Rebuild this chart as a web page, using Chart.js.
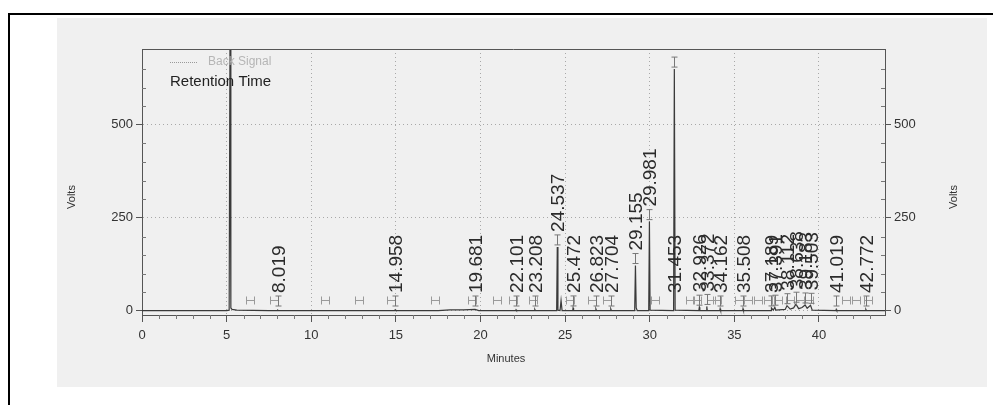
<!DOCTYPE html>
<html>
<head>
<meta charset="utf-8">
<script src="https://cdn.jsdelivr.net/npm/chart.js@4.4.1/dist/chart.umd.min.js"></script>
<style>
  html, body { margin: 0; padding: 0; background: #fff; }
  canvas { display: block; }
</style>
</head>
<body>
<canvas id="chromatogram" width="993" height="405"></canvas>
<script>
// Axis ticks
const minuteTicks = [0, 5, 10, 15, 20, 25, 30, 35, 40];
const voltTicks = [0, 250, 500];

// Detector trace (minutes / volts)
const traceMinutes = [0, 5.0, 5.15, 5.2, 5.25, 5.32, 5.6, 7.5, 8.0, 8.02, 8.05, 12.0, 14.93, 14.96, 15.0, 17.5,
  18.2, 19.0, 19.68, 19.9, 22.08, 22.1, 22.13, 23.19, 23.21, 23.24, 24.5, 24.537, 24.575, 24.7, 24.76, 24.82,
  25.45, 25.47, 25.5, 26.8, 26.82, 26.85, 27.68, 27.7, 27.73, 29.11, 29.155, 29.2, 29.26, 29.94, 29.981, 30.02,
  31.41, 31.453, 31.5, 32.9, 32.93, 32.96, 33.35, 33.37, 33.4, 34.14, 34.16, 34.19, 35.49, 35.51, 35.54,
  37.17, 37.19, 37.3, 37.39, 37.45, 38.0, 38.11, 38.3, 38.5, 38.64, 38.8, 39.0, 39.18, 39.3, 39.5, 39.6,
  41.0, 41.02, 41.05, 42.75, 42.77, 42.8, 43.9];
const traceVolts = [1, 1, 2, 760, 8, 4, 2, 1, 1, 2, 1, 1, 1, 3, 1, 1,
  3, 3, 4, 1, 1, 3, 1, 1, 4, 1, 1, 172, 2, 1, 28, 1,
  1, 8, 1, 1, 5, 1, 1, 5, 1, 1, 122, 8, 1, 1, 240, 2,
  1, 650, 2, 1, 10, 1, 1, 12, 1, 1, 6, 1, 1, 6, 1,
  1, 8, 2, 10, 2, 4, 14, 5, 8, 18, 6, 9, 16, 7, 15, 2,
  1, 4, 1, 1, 4, 1, 1];

// Labelled peaks (retention time labels and apex volts)
const peakLabels = ['8.019', '14.958', '19.681', '22.101', '23.208', '24.537', '25.472', '26.823', '27.704',
  '29.155', '29.981', '31.453', '32.926', '33.372', '34.162', '35.508', '37.189', '37.391', '38.112',
  '38.638', '39.183', '39.503', '41.019', '42.772'];
const peakVolts = [2, 3, 4, 3, 4, 172, 8, 5, 5, 122, 240, 650, 10, 12, 6, 6, 8, 10, 14, 18, 16, 15, 4, 4];

// Integration start/end marks along the baseline
const boundaryMinutes = [6.4, 7.8, 10.8, 12.8, 14.7, 17.3, 19.5, 21.0, 21.9, 23.1, 25.3, 26.6, 27.5, 30.3,
  32.4, 32.8, 33.6, 34.0, 35.3, 35.8, 36.4, 37.0, 37.6, 38.3, 38.9, 39.4, 41.6, 42.2, 42.9];

const FONT = "'Liberation Sans', Arial, sans-serif";

const decor = {
  id: 'decor',
  beforeDraw(chart) {
    const c = chart.ctx;
    c.save();
    c.fillStyle = '#ffffff';
    c.fillRect(0, 0, chart.width, chart.height);
    // scanned page
    c.fillStyle = '#f0f0f0';
    c.fillRect(57, 18, 930, 369);
    // black frame
    c.strokeStyle = '#000';
    c.lineWidth = 2;
    c.beginPath();
    c.moveTo(9, 405);
    c.lineTo(9, 14);
    c.lineTo(993, 14);
    c.stroke();
    c.restore();
  },
  afterDraw(chart) {
    const c = chart.ctx;
    const a = chart.chartArea;
    const xs = chart.scales.x;
    const ys = chart.scales.y;
    c.save();

    // top border of the plot box
    c.strokeStyle = '#555';
    c.lineWidth = 1;
    c.beginPath();
    c.moveTo(a.left, a.top + 0.5);
    c.lineTo(a.right, a.top + 0.5);
    c.stroke();

    // minor ticks
    c.strokeStyle = '#777';
    c.beginPath();
    for (let m = 1; m < 44; m++) {
      if (m % 5 === 0) continue;
      const px = Math.round(xs.getPixelForValue(m)) + 0.5;
      c.moveTo(px, a.bottom);
      c.lineTo(px, a.bottom + 4);
    }
    for (let v = 50; v < 700; v += 50) {
      if (v % 250 === 0) continue;
      const py = Math.round(ys.getPixelForValue(v)) + 0.5;
      c.moveTo(a.left, py);
      c.lineTo(a.left + 4, py);
      c.moveTo(a.right, py);
      c.lineTo(a.right - 4, py);
    }
    c.stroke();

    // baseline boundary marks
    c.strokeStyle = '#9a9a9a';
    c.beginPath();
    const by = ys.getPixelForValue(28);
    boundaryMinutes.forEach(m => {
      const px = Math.round(xs.getPixelForValue(m)) + 0.5;
      c.moveTo(px - 4, by);
      c.lineTo(px + 4, by);
      c.moveTo(px - 4, by - 4);
      c.lineTo(px - 4, by + 4);
      c.moveTo(px + 4, by - 4);
      c.lineTo(px + 4, by + 4);
    });
    c.stroke();

    // peak labels
    c.font = '19px ' + FONT;
    c.textBaseline = 'middle';
    c.textAlign = 'left';
    peakLabels.forEach((lab, i) => {
      const px = Math.round(xs.getPixelForValue(parseFloat(lab))) + 0.5;
      const apex = ys.getPixelForValue(peakVolts[i]);
      const mTop = Math.min(apex - 12, 296);
      // peak mark
      c.strokeStyle = '#777';
      c.beginPath();
      c.moveTo(px, mTop);
      c.lineTo(px, mTop + 10);
      c.moveTo(px - 3, mTop);
      c.lineTo(px + 3, mTop);
      c.moveTo(px - 3, mTop + 10);
      c.lineTo(px + 3, mTop + 10);
      c.stroke();
      const w = c.measureText(lab).width;
      let foot = mTop - 3;
      if (foot - w < a.top + 4) foot = 293;
      c.save();
      c.translate(px, foot);
      c.rotate(-Math.PI / 2);
      c.fillStyle = '#2b2b2b';
      c.fillText(lab, 0, 1);
      c.restore();
    });

    // legend
    c.strokeStyle = '#999';
    c.setLineDash([1, 1]);
    c.beginPath();
    c.moveTo(170, 62.5);
    c.lineTo(198, 62.5);
    c.stroke();
    c.setLineDash([]);
    c.font = '12px ' + FONT;
    c.fillStyle = '#b5b5b5';
    c.textAlign = 'left';
    c.fillText('Back Signal', 208, 62);
    c.font = '15px ' + FONT;
    c.fillStyle = '#222';
    c.fillText('Retention Time', 170, 82);

    // axis titles
    c.font = '11px ' + FONT;
    c.fillStyle = '#333';
    c.textAlign = 'center';
    c.fillText('Minutes', 506, 359);
    [72, 954].forEach(tx => {
      c.save();
      c.translate(tx, 197);
      c.rotate(-Math.PI / 2);
      c.fillText('Volts', 0, 0);
      c.restore();
    });
    c.restore();
  }
};

const tickFont = { family: FONT, size: 13 };

const chart = new Chart(document.getElementById('chromatogram'), {
  type: 'line',
  data: {
    datasets: [{
      label: 'Back Signal',
      data: traceMinutes.map((m, i) => ({ x: m, y: traceVolts[i] })),
      borderColor: '#3a3a3a',
      borderWidth: 1.2,
      pointRadius: 0,
      tension: 0
    }]
  },
  options: {
    responsive: false,
    animation: false,
    layout: { padding: { top: 49, left: 0, right: 0, bottom: 0 } },
    plugins: { legend: { display: false }, tooltip: { enabled: false } },
    scales: {
      x: {
        type: 'linear',
        min: 0,
        max: 43.9,
        afterBuildTicks: s => { s.ticks = minuteTicks.map(v => ({ value: v })); },
        afterFit: s => { s.height = 90; },
        ticks: { font: tickFont, color: '#333', padding: 6, maxRotation: 0 },
        grid: {
          color: ctx => (ctx.tick && ctx.tick.value === 0) ? 'rgba(0,0,0,0)' : '#a8a8a8',
          tickColor: '#555',
          tickLength: 7,
          tickBorderDash: []
        },
        border: { color: '#555', width: 1, dash: [1, 3] }
      },
      y: {
        position: 'left',
        min: -11,
        max: 704,
        afterBuildTicks: s => { s.ticks = voltTicks.map(v => ({ value: v })); },
        afterFit: s => { s.width = 142; },
        ticks: { font: tickFont, color: '#333', padding: 3 },
        grid: { color: '#a8a8a8', tickColor: '#555', tickLength: 6, tickBorderDash: [] },
        border: { color: '#555', width: 1, dash: [1, 3] }
      },
      y2: {
        position: 'right',
        min: -11,
        max: 704,
        afterBuildTicks: s => { s.ticks = voltTicks.map(v => ({ value: v })); },
        afterFit: s => { s.width = 108; },
        ticks: { font: tickFont, color: '#333', padding: 3 },
        grid: { drawOnChartArea: false, tickColor: '#555', tickLength: 6, tickBorderDash: [] },
        border: { color: '#555', width: 1 }
      }
    }
  },
  plugins: [decor]
});
</script>
</body>
</html>
